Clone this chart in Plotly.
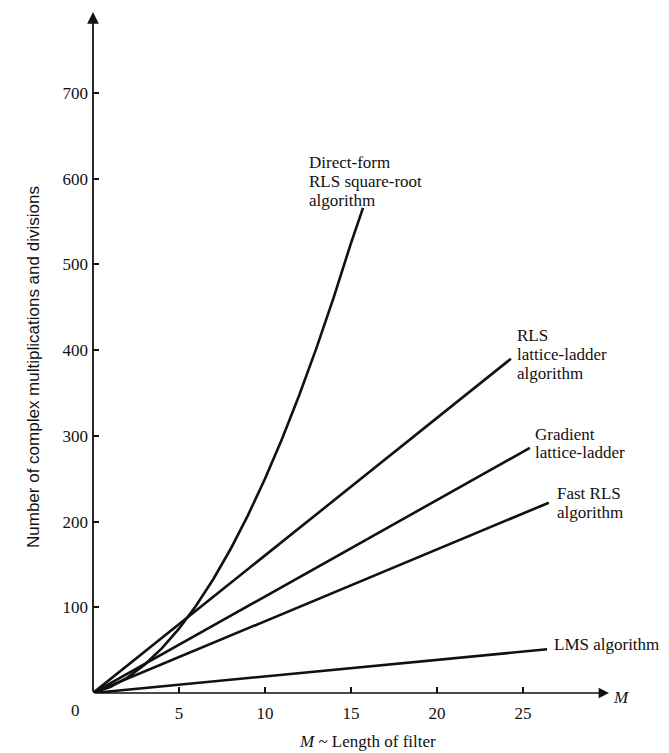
import plotly.graph_objects as go

# ---- data ----
direct_M = [0, 1, 2, 3, 4, 5, 6, 7, 8, 9, 10, 11, 12, 13, 14, 15, 15.7]
direct_ops = [0, 7, 18, 33, 52, 75, 102, 133, 168, 207, 250, 297, 348, 403, 462, 525, 566]

rls_lattice_M = [0, 24.3]
rls_lattice_ops = [0, 390]

gradient_M = [0, 25.4]
gradient_ops = [0, 286]

fast_rls_M = [0, 26.5]
fast_rls_ops = [0, 222]

lms_M = [0, 26.4]
lms_ops = [0, 51]

x_ticks = [5, 10, 15, 20, 25]
y_ticks = [100, 200, 300, 400, 500, 600, 700]

X_MAX = 30
Y_MAX = 794.6

# ---- layout geometry (page pixels; the page body adds an 8px offset) ----
OFF = 8
W, H = 669 - OFF, 753 - OFF
PL, PT, PR, PB = 93, 12, 609, 693  # plot area in page pixels
PW, PH = PR - PL, PB - PT


def px(x):
    return (x - PL) / PW


def py(y):
    return (PB - y) / PH


SERIF = "Liberation Serif, Times New Roman, serif"
SANS = "Liberation Sans, Arial, sans-serif"
BLACK = "#111111"
FS = 17

fig = go.Figure()
series = [
    (direct_M, direct_ops),
    (rls_lattice_M, rls_lattice_ops),
    (gradient_M, gradient_ops),
    (fast_rls_M, fast_rls_ops),
    (lms_M, lms_ops),
]
for xs, ys in series:
    fig.add_trace(go.Scatter(x=xs, y=ys, mode="lines",
                             line=dict(color=BLACK, width=2.6),
                             showlegend=False, hoverinfo="skip", cliponaxis=False))

annotations = []
# axes with arrows
annotations.append(dict(x=X_MAX, y=0, ax=0, ay=0, xref="x", yref="y", axref="x", ayref="y",
                        text="", showarrow=True, arrowhead=2, arrowsize=1.3, arrowwidth=1.6,
                        arrowcolor=BLACK, standoff=0))
annotations.append(dict(x=0, y=Y_MAX, ax=0, ay=0, xref="x", yref="y", axref="x", ayref="y",
                        text="", showarrow=True, arrowhead=2, arrowsize=1.3, arrowwidth=1.8,
                        arrowcolor=BLACK, standoff=0))

labels = [
    (307, [162, 181, 200], ["Direct-form", "RLS square-root", "algorithm"]),
    (515, [335, 354, 373], ["RLS", "lattice-ladder", "algorithm"]),
    (533, [435, 453], ["Gradient", "lattice-ladder"]),
    (555, [494, 513], ["Fast RLS", "algorithm"]),
    (552, [644], ["LMS algorithm"]),
]
for lx, lys, texts in labels:
    for ly, t in zip(lys, texts):
        annotations.append(dict(x=px(lx), y=py(ly), xref="paper", yref="paper", text=t,
                                showarrow=False, xanchor="left", yanchor="middle",
                                font=dict(family=SERIF, size=FS, color=BLACK)))

annotations.append(dict(x=px(75), y=py(710), xref="paper", yref="paper", text="0",
                        showarrow=False, xanchor="center", yanchor="middle",
                        font=dict(family=SERIF, size=FS, color=BLACK)))
annotations.append(dict(x=px(621), y=py(697), xref="paper", yref="paper", text="<i>M</i>",
                        showarrow=False, xanchor="center", yanchor="middle",
                        font=dict(family=SERIF, size=FS, color=BLACK)))
annotations.append(dict(x=px(367), y=py(742), xref="paper", yref="paper",
                        text="<i>M</i> ~ Length of filter",
                        showarrow=False, xanchor="center", yanchor="middle",
                        font=dict(family=SERIF, size=FS, color=BLACK)))
annotations.append(dict(x=px(33), y=py(367), xref="paper", yref="paper",
                        text="Number of complex multiplications and divisions",
                        showarrow=False, xanchor="center", yanchor="middle", textangle=-90,
                        font=dict(family=SANS, size=FS, color=BLACK)))

fig.update_layout(
    width=W, height=H,
    margin=dict(l=PL - OFF, r=W - (PR - OFF), t=PT - OFF, b=H - (PB - OFF), pad=0),
    paper_bgcolor="white", plot_bgcolor="white",
    annotations=annotations,
    xaxis=dict(range=[0, X_MAX], tickvals=x_ticks, ticktext=[str(v) for v in x_ticks],
               showgrid=False, zeroline=False, showline=False,
               ticks="inside", ticklen=6, tickwidth=1.5, tickcolor=BLACK,
               ticklabelstandoff=8,
               tickfont=dict(family=SERIF, size=FS, color=BLACK), fixedrange=True),
    yaxis=dict(range=[0, Y_MAX], tickvals=y_ticks, ticktext=[str(v) for v in y_ticks],
               showgrid=False, zeroline=False, showline=False,
               ticks="inside", ticklen=6, tickwidth=1.5, tickcolor=BLACK,
               ticklabelstandoff=4,
               tickfont=dict(family=SERIF, size=FS, color=BLACK), fixedrange=True),
)

fig.write_html("out.html")
